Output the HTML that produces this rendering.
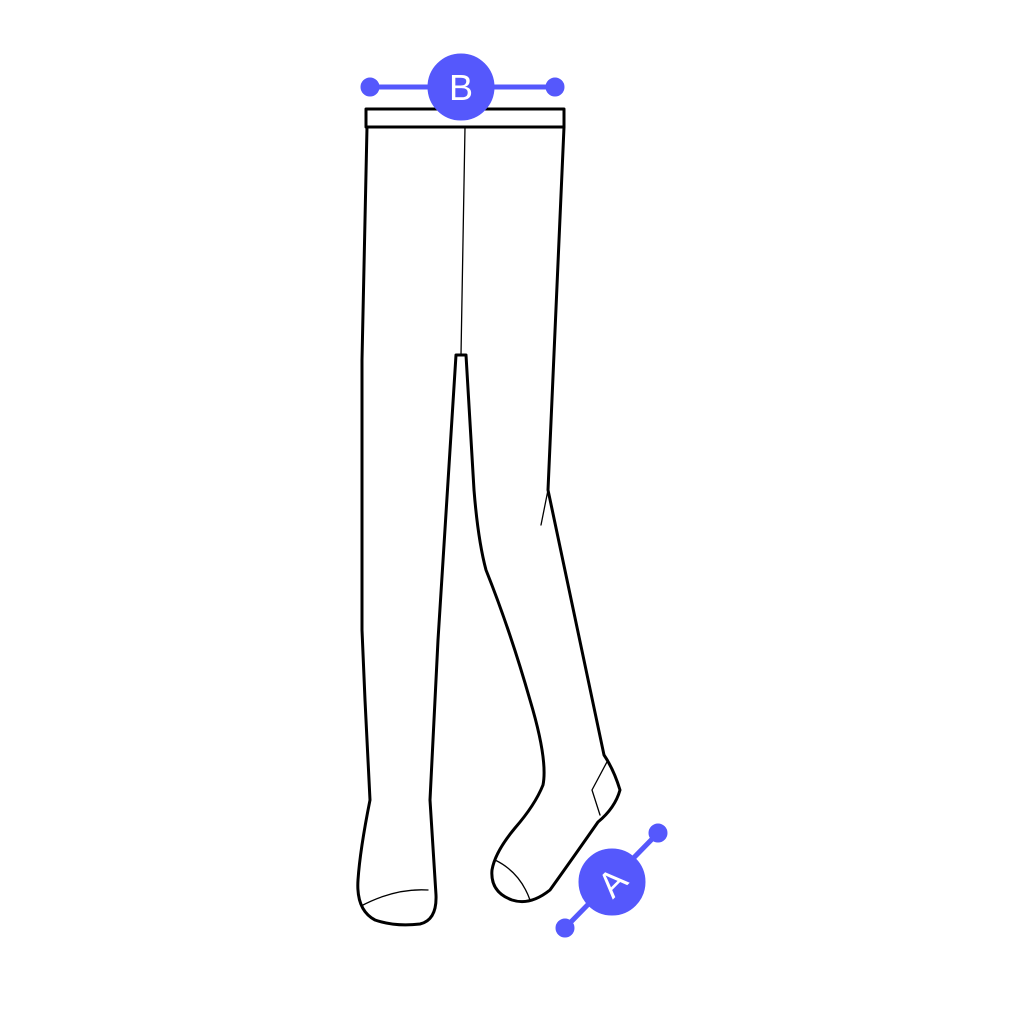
<!DOCTYPE html>
<html><head><style>html,body{margin:0;padding:0;background:#fff}</style></head>
<body>
<svg width="1020" height="1020" viewBox="0 0 1020 1020" xmlns="http://www.w3.org/2000/svg">
<g fill="none" stroke="#000" stroke-linejoin="round" stroke-linecap="round">
<path d="M366,109 L564,109 L564,127 L366,127 Z" stroke-width="3" fill="#fff"/>
<path d="M367,127 L362,360 L362,630 L365,700 L370,800 Q360,850 358,880 Q356,910 375,920 Q395,927 420,924 Q437,920 436,895 L430,800 L438,640 L456,355 L466,355 Q470,420 474,490 Q478,540 486,570 Q510,630 530,700 Q548,760 543,785 Q535,805 515,828 Q495,852 492,870 Q490,892 512,900 Q530,906 550,890 Q575,855 598,822 Q615,808 620,790 Q614,770 604,755 L548,490 L564,127" stroke-width="3"/>
<path d="M465,127 L461,355" stroke-width="1.3"/>
<path d="M361,906 Q395,888 428,890" stroke-width="1.3"/>
<path d="M495,860 Q520,872 530,900" stroke-width="1.3"/>
<path d="M608,760 L592,790 L600,815" stroke-width="1.3"/>
<path d="M548,490 L541,525" stroke-width="1.3"/>
</g>
<g fill="#5558fc" stroke="#5558fc">
<line x1="370" y1="87" x2="555" y2="87" stroke-width="5"/>
<circle cx="370" cy="87" r="9"/><circle cx="555" cy="87" r="9"/>
<circle cx="461" cy="87" r="33"/>
<line x1="565" y1="928" x2="658" y2="833" stroke-width="5"/>
<circle cx="565" cy="928" r="9"/><circle cx="658" cy="833" r="9"/>
<circle cx="612" cy="882" r="33"/>
</g>
<text x="461" y="100" text-anchor="middle" font-family="Liberation Sans, sans-serif" font-size="36" fill="#fff">B</text>
<text x="0" y="0" transform="translate(612,882) rotate(-45) translate(0,13)" text-anchor="middle" font-family="Liberation Sans, sans-serif" font-size="36" fill="#fff">A</text>
</svg>
</body></html>
